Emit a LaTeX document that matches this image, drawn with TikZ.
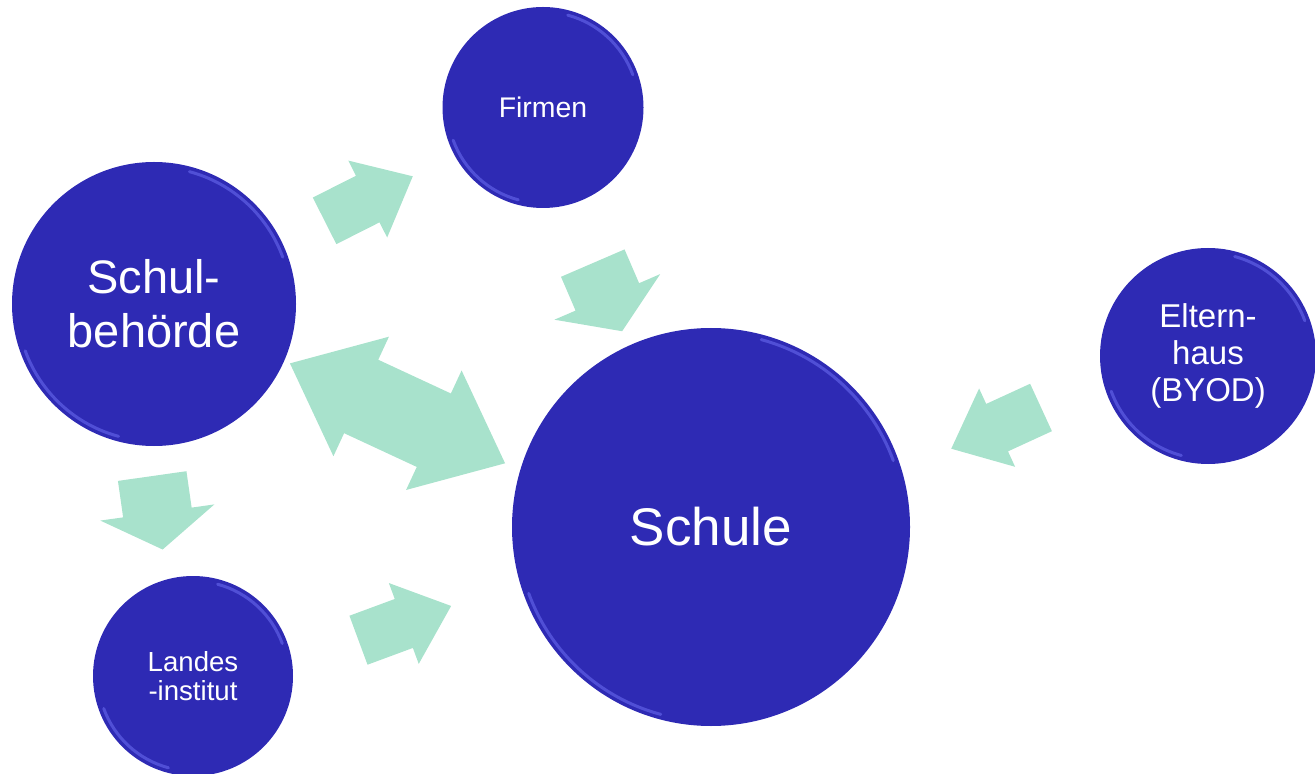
\documentclass[tikz,border=0pt]{standalone}
\usepackage{fontspec}
\setmainfont{Liberation Sans}
\usetikzlibrary{shapes.arrows}
\definecolor{kreisblau}{HTML}{2E2AB4}
\definecolor{randblau}{HTML}{6868EE}
\definecolor{pfeilgruen}{HTML}{A8E2CC}

\begin{document}
\begin{tikzpicture}[x=0.5pt,y=-0.5pt,
  kreis/.style={circle,fill=kreisblau,text=white,inner sep=0pt,align=center},
  rand/.style={draw=randblau,line width=1.5pt,draw opacity=0.6,line cap=round},
  pfeil/.style={single arrow,fill=pfeilgruen,inner xsep=0pt,sloped,allow upside down,anchor=tip},
  langpfeil/.style={pfeil,minimum height=49.4pt,inner ysep=12.85pt,single arrow head extend=8.5pt,single arrow tip angle=81},
  kurzpfeil/.style={pfeil,minimum height=37.1pt,inner ysep=17.1pt,single arrow head extend=11.5pt,single arrow tip angle=114},
  doppelpfeil/.style={double arrow,fill=pfeilgruen,inner xsep=0pt,inner ysep=20.05pt,sloped,allow upside down,minimum height=118.6pt,double arrow head extend=12.7pt,double arrow tip angle=80}]
\useasboundingbox (0,0) rectangle (1315,774);
% Kreise
\node[kreis,minimum size=142pt,font={\fontsize{23.5}{27}\selectfont}] (sb) at (154,304) {Schul-\\behörde};
\node[kreis,minimum size=100.5pt,font={\fontsize{14.2}{16}\selectfont}] (fi) at (543,107.5) {Firmen};
\node[kreis,minimum size=199pt,font={\fontsize{26.5}{30}\selectfont}] (sc) at (711,527) {Schule};
\node[kreis,minimum size=108pt,font={\fontsize{16.5}{18.5}\selectfont}] (el) at (1208,356) {Eltern-\\haus\\(BYOD)};
\node[kreis,minimum size=100pt,font={\fontsize{13.8}{14.7}\selectfont}] (li) at (193,676) {Landes\\-institut};
% Glanzkanten
\draw[rand] (sb.center) ++(20:68.5pt) arc[start angle=20,end angle=75,radius=68.5pt];
\draw[rand] (sb.center) ++(200:68.5pt) arc[start angle=200,end angle=255,radius=68.5pt];
\draw[rand] (fi.center) ++(20:47.8pt) arc[start angle=20,end angle=75,radius=47.8pt];
\draw[rand] (fi.center) ++(200:47.8pt) arc[start angle=200,end angle=255,radius=47.8pt];
\draw[rand] (sc.center) ++(20:97pt) arc[start angle=20,end angle=75,radius=97pt];
\draw[rand] (sc.center) ++(200:97pt) arc[start angle=200,end angle=255,radius=97pt];
\draw[rand] (el.center) ++(20:51.5pt) arc[start angle=20,end angle=75,radius=51.5pt];
\draw[rand] (el.center) ++(200:51.5pt) arc[start angle=200,end angle=255,radius=51.5pt];
\draw[rand] (li.center) ++(20:47.5pt) arc[start angle=20,end angle=75,radius=47.5pt];
\draw[rand] (li.center) ++(200:47.5pt) arc[start angle=200,end angle=255,radius=47.5pt];
% Pfeile
\path (sb.center) -- (fi.center) node[langpfeil,pos=0.6635,yshift=-1.35pt] (p1) {};
\path (fi.center) -- (sc.center) node[kurzpfeil,pos=0.5258,yshift=-4.85pt,rotate=1.5] (p2) {};
\path (sb.center) -- (li.center) node[kurzpfeil,pos=0.6565,yshift=-8.5pt,rotate=2.1] (p3) {};
\path (li.center) -- (sc.center) node[langpfeil,pos=0.4973,yshift=-2pt,rotate=4.25] (p4) {};
\path (el.center) -- (sc.center) node[langpfeil,pos=0.5205,yshift=2.1pt,rotate=5.7] (p5) {};
\path (sb.center) -- (sc.center) node[doppelpfeil,pos=0.4445,yshift=-5.5pt,rotate=-3.1] (p6) {};
\end{tikzpicture}
\end{document}
